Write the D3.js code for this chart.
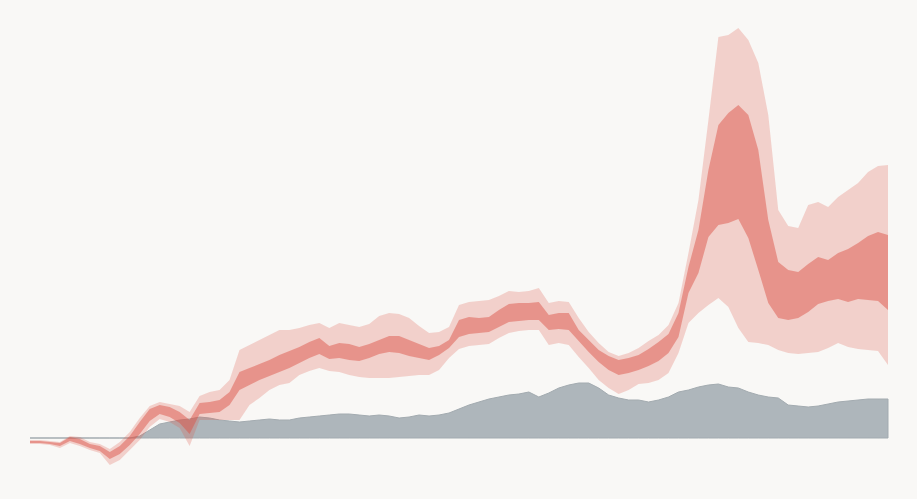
<!DOCTYPE html>
<html>
<head>
<meta charset="utf-8">
<script src="https://cdn.jsdelivr.net/npm/d3@7"></script>
<style>
  html, body { margin: 0; padding: 0; background: #f9f8f6; }
  svg { display: block; }
</style>
</head>
<body>
<svg></svg>
<script>
// weekly values, one entry per week
const expected = [0,0,0,0,0,0,0,0,0,0,0,2,8,14,16,18,19,21,20,18,17,16,17,18,19,18,18,20,21,22,23,24,24,23,22,23,22,20,21,23,22,23,25,29,33,36,39,41,43,44,46,41,45,50,53,55,55,50,43,40,38,38,36,38,41,46,48,51,53,54,51,50,46,43,41,40,33,32,31,32,34,36,37,38,39,39,39];

const outerHigh = [-2,-2,-3,-4,2,1,-4,-6,-11,-4,6,20,32,36,34,32,26,42,46,48,58,88,93,98,103,108,108,110,113,115,110,115,113,111,114,122,125,124,120,112,105,106,111,133,136,137,138,142,147,146,147,150,135,137,136,120,106,95,86,82,85,90,97,103,113,135,185,238,318,401,403,410,398,375,323,228,212,210,233,236,231,241,248,255,266,272,273];
const innerHigh = [-3,-3,-4,-5,1,-1,-6,-8,-14,-8,2,16,29,33,31,26,18,35,36,38,46,66,70,74,78,83,87,91,96,100,92,95,94,91,94,98,102,102,98,94,90,92,98,118,121,120,121,128,134,135,135,136,123,125,125,108,98,88,82,78,80,83,89,96,104,125,171,208,268,313,325,333,323,288,218,176,168,166,174,181,178,185,189,195,202,206,203];
const innerLow = [-5,-5,-6,-8,-3,-6,-10,-13,-21,-16,-7,4,17,24,21,15,4,24,25,26,33,48,53,58,62,66,70,75,80,84,79,80,78,77,80,84,86,85,82,80,78,83,90,101,104,105,106,111,116,117,118,118,108,109,108,97,86,76,68,63,65,68,72,77,85,101,145,165,201,213,215,219,200,168,135,120,118,120,126,134,137,139,136,139,138,137,128];
const outerLow = [-6,-6,-7,-10,-5,-8,-12,-15,-27,-22,-12,-2,11,19,16,10,-8,18,18,18,18,18,33,40,48,53,55,63,67,70,67,66,63,61,60,60,60,61,62,63,63,68,80,89,92,93,94,100,105,107,108,108,93,95,93,81,70,58,50,44,48,54,55,58,65,85,115,125,133,140,131,110,96,95,93,88,85,84,85,86,90,95,91,89,88,87,73];

const width = 917, height = 499;
const margin = { left: 30, right: 29, top: 28, bottom: 61 };

const svg = d3.select("svg")
  .attr("width", width)
  .attr("height", height);

svg.append("rect")
  .attr("width", width)
  .attr("height", height)
  .attr("fill", "#f9f8f6");

const x = d3.scaleLinear()
  .domain([0, expected.length - 1])
  .range([margin.left, width - margin.right]);

const y = d3.scaleLinear()
  .domain([0, 410])
  .range([height - margin.bottom, margin.top]);

// grey area
const grey = d3.area()
  .x((d, i) => x(i))
  .y0(y(0))
  .y1(d => y(d));

svg.append("path")
  .datum(expected)
  .attr("d", grey)
  .attr("fill", "#aeb6bb")
  .attr("stroke", "#a3abb0")
  .attr("stroke-width", 1);

// uncertainty bands
const band = (lo, hi) => d3.area()
  .x((d, i) => x(i))
  .y0((d, i) => y(lo[i]))
  .y1((d, i) => y(hi[i]))(lo);

svg.append("path")
  .attr("d", band(outerLow, outerHigh))
  .attr("fill", "#dc5244")
  .attr("fill-opacity", 0.24);

svg.append("path")
  .attr("d", band(innerLow, innerHigh))
  .attr("fill", "#dc5244")
  .attr("fill-opacity", 0.48);
</script>
</body>
</html>
